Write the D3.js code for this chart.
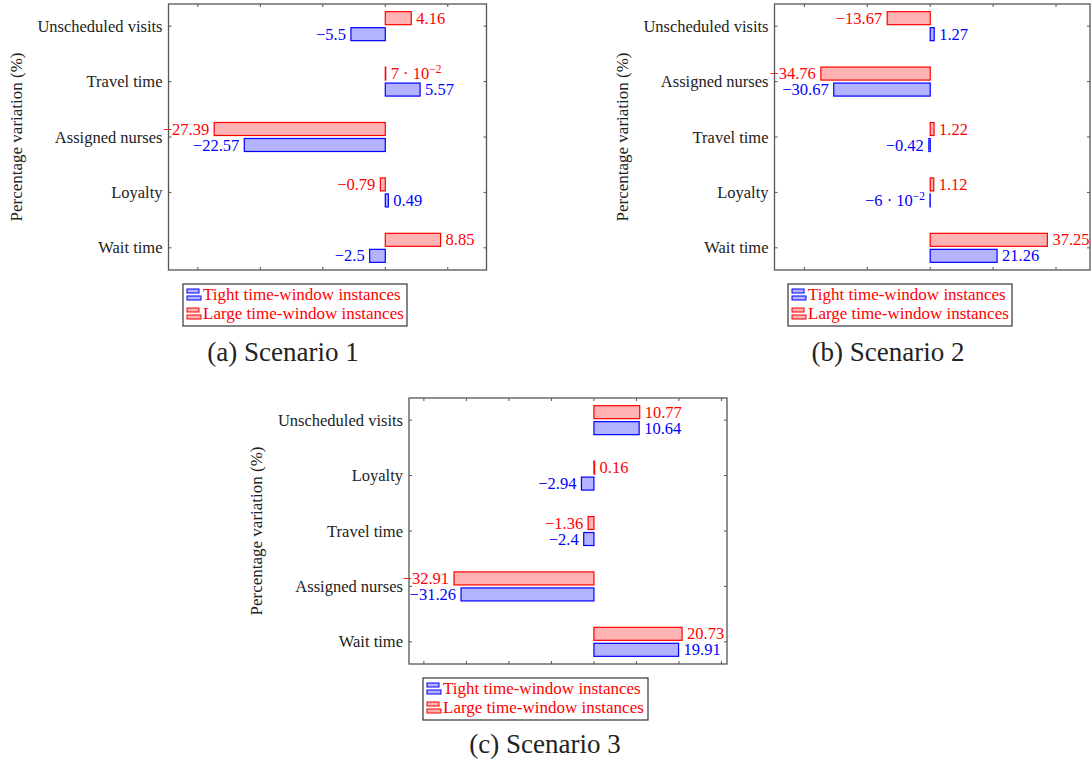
<!DOCTYPE html>
<head>
    <meta charset="utf-8">
    <script src="https://d3js.org/d3.v7.min.js"></script>
    <style>
      body { margin: 0; background: #fff; }
      .frame { fill: none; stroke: #555; stroke-width: 1.3; }
      .tick { stroke: #555; stroke-width: 1; }
    </style>
</head>
<body>
    <div class="chart"></div>

    <script>
      // scenario 1
      var cats1 = ['Unscheduled visits', 'Travel time', 'Assigned nurses', 'Loyalty', 'Wait time'];
      var large1 = [4.16, 0.07, -27.39, -0.79, 8.85];
      var tight1 = [-5.5, 5.57, -22.57, 0.49, -2.5];
      var domain1 = [-34.7, 16.2];
      var ticks1 = [-30, -20, -10, 0, 10];

      // scenario 2
      var cats2 = ['Unscheduled visits', 'Assigned nurses', 'Travel time', 'Loyalty', 'Wait time'];
      var large2 = [-13.67, -34.76, 1.22, 1.12, 37.25];
      var tight2 = [1.27, -30.67, -0.42, -0.06, 21.26];
      var domain2 = [-49.5, 50.8];
      var ticks2 = [-40, -20, 0, 20, 40];

      // scenario 3
      var cats3 = ['Unscheduled visits', 'Loyalty', 'Travel time', 'Assigned nurses', 'Wait time'];
      var large3 = [10.77, 0.16, -1.36, -32.91, 20.73];
      var tight3 = [10.64, -2.94, -2.4, -31.26, 19.91];
      var domain3 = [-43.5, 31.3];
      var ticks3 = [-40, -30, -20, -10, 0, 10, 20, 30];

      var legendLabels = ['Tight time-window instances', 'Large time-window instances'];
      var captions = ['(a) Scenario 1', '(b) Scenario 2', '(c) Scenario 3'];

      var red = '#ff0000', blue = '#0000ff';
      var redFill = '#ffb3b3', blueFill = '#b3b3ff';

      var svg = d3.select('.chart').append('svg')
          .attr('width', 1091)
          .attr('height', 763)
          .attr('font-family', "'Liberation Serif'");

      // pgfplots style number labels
      function fmt(v) {
          var a = Math.abs(v);
          var sign = v < 0 ? '\u2212' : '';
          if (a > 0 && a < 0.1) {
              var e = Math.floor(Math.log10(a));
              var m = Math.round(a / Math.pow(10, e));
              return {main: sign + m + ' \u00b7 10', sup: '\u2212' + (-e)};
          }
          return {main: sign + String(a), sup: null};
      }

      function panel(opts) {
          var g = svg.append('g');
          var x = d3.scaleLinear().domain(opts.domain).range([opts.left, opts.right]);
          var y = d3.scalePoint().domain(opts.cats).range([opts.top, opts.bottom]).padding(0.4);
          var barH = 13, off = 8;

          // ticks on top / bottom
          opts.ticks.forEach(function (t) {
              g.append('line').attr('class', 'tick')
                  .attr('x1', x(t)).attr('x2', x(t))
                  .attr('y1', opts.top).attr('y2', opts.top + 3);
              g.append('line').attr('class', 'tick')
                  .attr('x1', x(t)).attr('x2', x(t))
                  .attr('y1', opts.bottom).attr('y2', opts.bottom - 3);
          });
          opts.cats.forEach(function (c) {
              g.append('line').attr('class', 'tick')
                  .attr('x1', opts.left).attr('x2', opts.left + 3)
                  .attr('y1', y(c)).attr('y2', y(c));
              g.append('line').attr('class', 'tick')
                  .attr('x1', opts.right).attr('x2', opts.right - 3)
                  .attr('y1', y(c)).attr('y2', y(c));
          });

          var series = [
              {vals: opts.large, dy: -off, stroke: red, fill: redFill},
              {vals: opts.tight, dy: off, stroke: blue, fill: blueFill}
          ];

          series.forEach(function (s) {
              var data = opts.cats.map(function (c, i) { return {cat: c, v: s.vals[i]}; });
              g.selectAll(null).data(data).enter().append('rect')
                  .attr('x', function (d) { return Math.min(x(0), x(d.v)); })
                  .attr('y', function (d) { return y(d.cat) + s.dy - barH / 2; })
                  .attr('width', function (d) { return Math.abs(x(d.v) - x(0)); })
                  .attr('height', barH)
                  .attr('fill', s.fill)
                  .attr('stroke', s.stroke)
                  .attr('stroke-width', 1.2);

              var lbl = g.selectAll(null).data(data).enter().append('text')
                  .attr('x', function (d) { return x(d.v) + (d.v < 0 ? -5 : 5); })
                  .attr('y', function (d) { return y(d.cat) + s.dy + 5.5; })
                  .attr('text-anchor', function (d) { return d.v < 0 ? 'end' : 'start'; })
                  .attr('fill', s.stroke)
                  .style('font-size', '16.5px');
              lbl.each(function (d) {
                  var f = fmt(d.v), t = d3.select(this);
                  t.append('tspan').text(f.main);
                  if (f.sup) {
                      t.append('tspan').attr('dy', -6).style('font-size', '11.5px').text(f.sup);
                  }
              });
          });

          // category labels
          g.selectAll(null).data(opts.cats).enter().append('text')
              .attr('x', opts.left - 6)
              .attr('y', function (d) { return y(d) + 5.5; })
              .attr('text-anchor', 'end')
              .attr('fill', '#222')
              .style('font-size', '16.5px')
              .text(function (d) { return d; });

          // frame
          g.append('rect').attr('class', 'frame')
              .attr('x', opts.left).attr('y', opts.top)
              .attr('width', opts.right - opts.left)
              .attr('height', opts.bottom - opts.top);

          // y title
          var cy = (opts.top + opts.bottom) / 2;
          g.append('text')
              .attr('transform', 'translate(' + opts.ylabX + ',' + cy + ') rotate(-90)')
              .attr('text-anchor', 'middle')
              .attr('fill', '#222')
              .style('font-size', '17px')
              .text('Percentage variation (%)');

          // legend
          var L = opts.legend;
          var lg = g.append('g');
          lg.append('rect')
              .attr('x', L.x).attr('y', L.y).attr('width', L.w).attr('height', 42)
              .attr('fill', '#fff').attr('stroke', '#222').attr('stroke-width', 1.1);
          [[blue, blueFill], [red, redFill]].forEach(function (c, i) {
              var ly = L.y + 11 + i * 19;
              lg.append('rect').attr('x', L.x + 4).attr('y', ly - 6).attr('width', 12).attr('height', 4)
                  .attr('fill', c[1]).attr('stroke', c[0]).attr('stroke-width', 1);
              lg.append('rect').attr('x', L.x + 4).attr('y', ly + 1).attr('width', 14).attr('height', 4)
                  .attr('fill', c[1]).attr('stroke', c[0]).attr('stroke-width', 1);
              lg.append('text')
                  .attr('x', L.x + 20).attr('y', ly + 5)
                  .attr('fill', red)
                  .style('font-size', '17px')
                  .text(legendLabels[i]);
          });

          g.append('text')
              .attr('x', opts.capX).attr('y', opts.capY)
              .attr('text-anchor', 'middle')
              .attr('fill', '#222')
              .style('font-size', '27px')
              .text(opts.caption);
      }

      panel({cats: cats1, large: large1, tight: tight1, domain: domain1, ticks: ticks1,
             left: 168.5, right: 486.5, top: 4, bottom: 270, ylabX: 22,
             legend: {x: 183, y: 284, w: 224}, caption: captions[0], capX: 283, capY: 361});

      panel({cats: cats2, large: large2, tight: tight2, domain: domain2, ticks: ticks2,
             left: 774.5, right: 1090, top: 4, bottom: 270, ylabX: 628,
             legend: {x: 788, y: 284, w: 224}, caption: captions[1], capX: 888, capY: 361});

      panel({cats: cats3, large: large3, tight: tight3, domain: domain3, ticks: ticks3,
             left: 409, right: 727, top: 398, bottom: 664, ylabX: 262,
             legend: {x: 423, y: 678, w: 225}, caption: captions[2], capX: 545, capY: 753});
    </script>
</body>
